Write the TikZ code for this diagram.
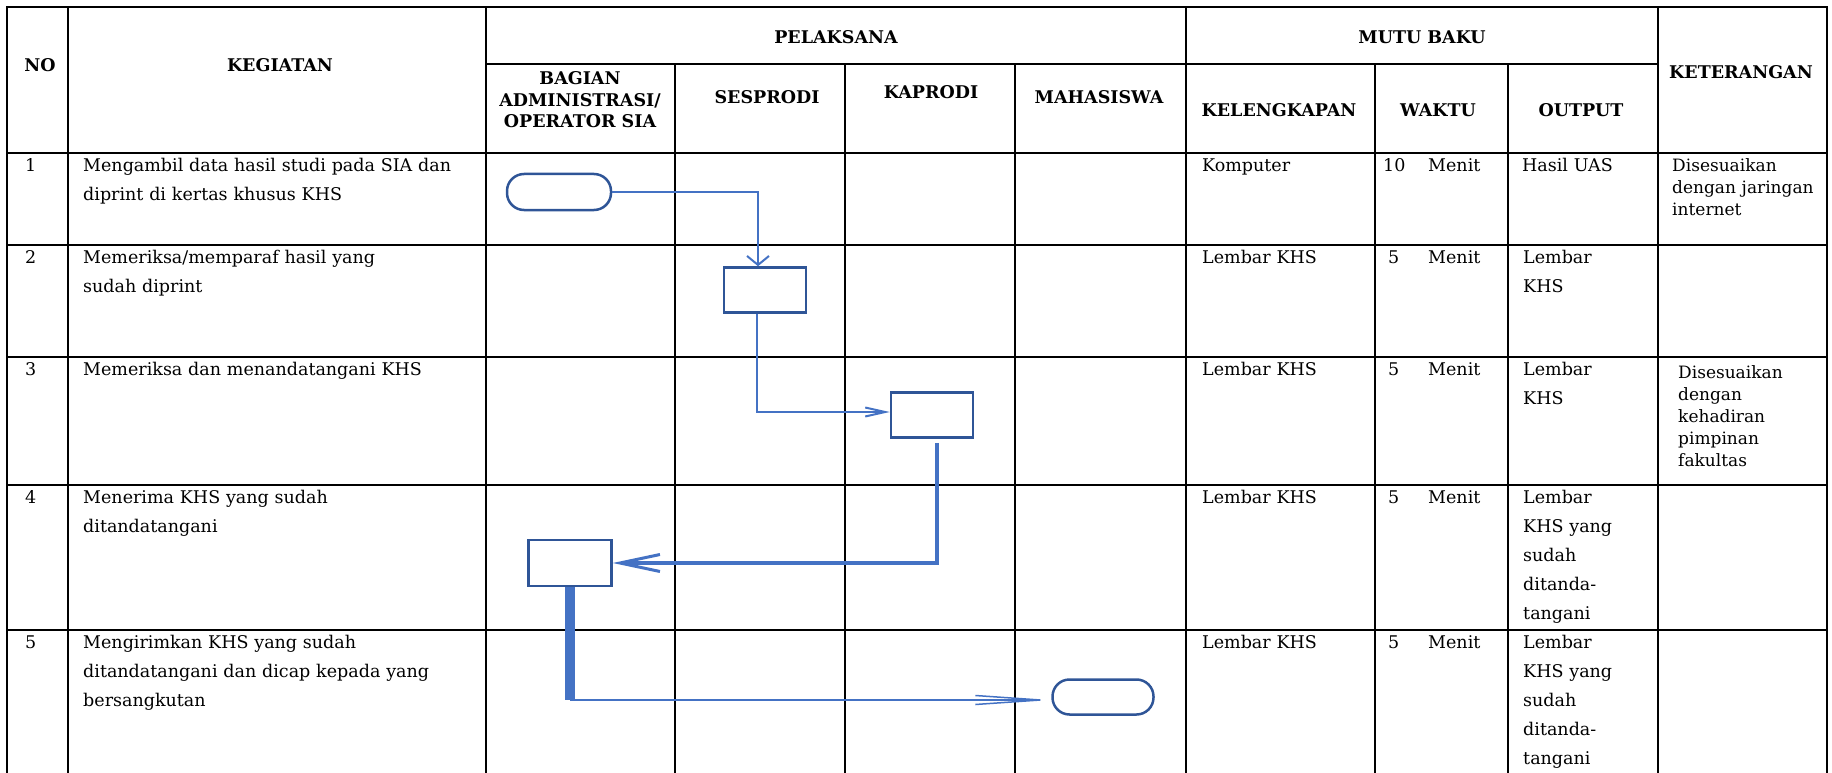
\documentclass[tikz,border=0pt]{standalone}
\usepackage{fontspec}
\setmainfont{DejaVu Serif}
\usetikzlibrary{arrows.meta,positioning,calc}

\definecolor{garis}{HTML}{4472C4}
\definecolor{bingkai}{HTML}{2F5597}
\newcommand{\isi}{\fontsize{17.5}{29}\selectfont}
\newcommand{\ketfont}{\fontsize{17}{22}\selectfont}
\newcommand{\judul}{\fontsize{17.5}{21.5}\selectfont\bfseries}

\tikzset{
  tabel/.style={line width=2.7pt, line cap=rect},
  kepala/.style={align=center, inner sep=0pt, font=\judul},
  sel/.style={anchor=north west, inner sep=0pt, text width=420pt, align=left, font=\isi, execute at begin node=\strut},
  terminal/.style={draw=bingkai, line width=2.5pt, rounded corners=17pt, minimum width=104pt, minimum height=36pt, inner sep=0pt},
  proses/.style={draw=bingkai, line width=2.5pt, minimum width=82pt, minimum height=45pt, inner sep=0pt},
  alur/.style={draw=garis, line width=2pt},
  batang/.style={draw=garis, line width=10pt}
}

\begin{document}
\begin{tikzpicture}[x=1pt,y=-1pt]
  \useasboundingbox (0,0) rectangle (1832,773);

  % garis tabel
  \draw[tabel] (7,7) -- (1827,7);
  \draw[tabel] (486,64) -- (1658,64);
  \draw[tabel] (7,153) -- (1827,153);
  \draw[tabel] (7,245) -- (1827,245);
  \draw[tabel] (7,357) -- (1827,357);
  \draw[tabel] (7,485) -- (1827,485);
  \draw[tabel] (7,630) -- (1827,630);
  \draw[tabel] (7,7) -- (7,773);
  \draw[tabel] (68,7) -- (68,773);
  \draw[tabel] (486,7) -- (486,773);
  \draw[tabel] (675,64) -- (675,773);
  \draw[tabel] (845,64) -- (845,773);
  \draw[tabel] (1015,64) -- (1015,773);
  \draw[tabel] (1186,7) -- (1186,773);
  \draw[tabel] (1375,64) -- (1375,773);
  \draw[tabel] (1508,64) -- (1508,773);
  \draw[tabel] (1658,7) -- (1658,773);
  \draw[tabel] (1827,7) -- (1827,773);

  % kepala tabel
  \node[kepala] (hNo) at (40,65) {NO};
  \node[kepala] (hKegiatan) at (280,65) {KEGIATAN};
  \node[kepala] (hPelaksana) at (836,37) {PELAKSANA};
  \node[kepala] (hMutu) at (1422,37) {MUTU BAKU};
  \node[kepala] (hKet) at (1741,72) {KETERANGAN};
  \node[kepala] (hBagian) at (580,100) {BAGIAN\\ADMINISTRASI/\\OPERATOR SIA};
  \node[kepala] (hSes) at (767,97) {SESPRODI};
  \node[kepala] (hKap) at (931,92) {KAPRODI};
  \node[kepala] (hMhs) at (1099,97) {MAHASISWA};
  \node[kepala] (hLengkap) at (1279,110) {KELENGKAPAN};
  \node[kepala] (hWaktu) at (1438,110) {WAKTU};
  \node[kepala] (hOutput) at (1581,110) {OUTPUT};

  % baris 1
  \node[sel] (no1) at (25,151) {1};
  \node[sel] (keg1) at (83,151) {Mengambil data hasil studi pada SIA dan\\diprint di kertas khusus KHS};
  \node[sel] (lgk1) at (1202,151) {Komputer};
  \node[sel] (wkt1) at (1383,151) {10};
  \node[sel] (mnt1) at (1428,151) {Menit};
  \node[sel] (out1) at (1522,151) {Hasil UAS};
  \node[sel, font=\ketfont] (ket1) at (1672,156) {Disesuaikan\\dengan jaringan\\internet};

  % baris 2
  \node[sel] (no2) at (25,243) {2};
  \node[sel] (keg2) at (83,243) {Memeriksa/memparaf hasil yang\\sudah diprint};
  \node[sel] (lgk2) at (1202,243) {Lembar KHS};
  \node[sel] (wkt2) at (1388,243) {5};
  \node[sel] (mnt2) at (1428,243) {Menit};
  \node[sel] (out2) at (1523,243) {Lembar\\KHS};

  % baris 3
  \node[sel] (no3) at (25,355) {3};
  \node[sel] (keg3) at (83,355) {Memeriksa dan menandatangani KHS};
  \node[sel] (lgk3) at (1202,355) {Lembar KHS};
  \node[sel] (wkt3) at (1388,355) {5};
  \node[sel] (mnt3) at (1428,355) {Menit};
  \node[sel] (out3) at (1523,355) {Lembar\\KHS};
  \node[sel, font=\ketfont] (ket3) at (1678,363) {Disesuaikan\\dengan\\kehadiran\\pimpinan\\fakultas};

  % baris 4
  \node[sel] (no4) at (25,483) {4};
  \node[sel] (keg4) at (83,483) {Menerima KHS yang sudah\\ditandatangani};
  \node[sel] (lgk4) at (1202,483) {Lembar KHS};
  \node[sel] (wkt4) at (1388,483) {5};
  \node[sel] (mnt4) at (1428,483) {Menit};
  \node[sel] (out4) at (1523,483) {Lembar\\KHS yang\\sudah\\ditanda-\\tangani};

  % baris 5
  \node[sel] (no5) at (25,628) {5};
  \node[sel] (keg5) at (83,628) {Mengirimkan KHS yang sudah\\ditandatangani dan dicap kepada yang\\bersangkutan};
  \node[sel] (lgk5) at (1202,628) {Lembar KHS};
  \node[sel] (wkt5) at (1388,628) {5};
  \node[sel] (mnt5) at (1428,628) {Menit};
  \node[sel] (out5) at (1523,628) {Lembar\\KHS yang\\sudah\\ditanda-\\tangani};

  % bagan alir
  \node[terminal] (mulai) at (559,192) {};
  \node[proses] (periksa) at (765,290) {};
  \node[proses] (ttd) at (932,415) {};
  \node[proses, minimum width=83pt, minimum height=46pt] (terima) at (570,563) {};
  \node[terminal, minimum width=101pt, minimum height=35pt] (selesai) at (1103,697) {};
  \coordinate (belok) at (570,700);

  \draw[alur, -{Straight Barb[length=9pt,width=22pt]}] (mulai.east) -| ([xshift=-7pt]periksa.north);
  \draw[alur, -{Straight Barb[length=20pt,width=9pt]}] ([xshift=-8pt]periksa.south) |- ([yshift=3pt]ttd.west);
  \draw[alur, line width=4pt, -{Straight Barb[length=40pt,width=17pt,line width=3pt]}] ([xshift=5pt,yshift=-4pt]ttd.south) |- (terima.east);
  \draw[batang] (terima.south) -- (belok);
  \draw[alur, line width=1.5pt, -{Straight Barb[length=65pt,width=9pt]}] (belok) -- (selesai.west |- belok);

\end{tikzpicture}
\end{document}
